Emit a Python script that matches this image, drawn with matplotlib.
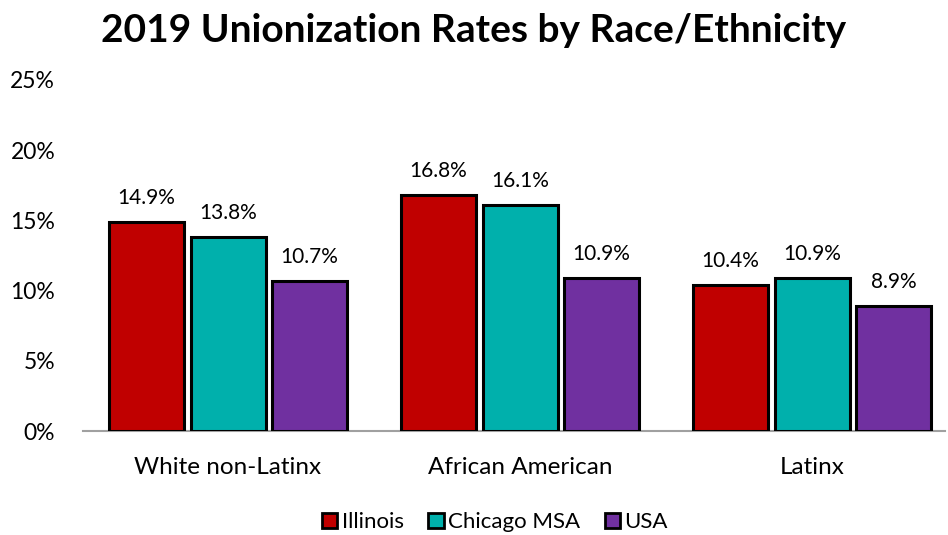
import numpy as np
import matplotlib
matplotlib.use('Agg')
import matplotlib.pyplot as plt
from matplotlib.patches import Patch

plt.rcParams['font.family'] = ['Lato', 'DejaVu Sans']

# data
categories = ['White non-Latinx', 'African American', 'Latinx']
series = ['Illinois', 'Chicago MSA', 'USA']
illinois = [14.9, 16.8, 10.4]
chicago = [13.8, 16.1, 10.9]
usa = [10.7, 10.9, 8.9]
colors = ['#C00000', '#00B0AC', '#7030A0']

fig = plt.figure(figsize=(9.48, 5.35), dpi=100)
ax = fig.add_axes([83 / 948, 104 / 535, 862 / 948, 351 / 535])

x = np.arange(len(categories))
offs = [-0.279, 0, 0.279]
w = 0.257
for vals, off, c in zip([illinois, chicago, usa], offs, colors):
    bars = ax.bar(x + off, vals, w, color=c, edgecolor='black', linewidth=2.2, zorder=3)
    for b, v in zip(bars, vals):
        ax.text(b.get_x() + b.get_width() / 2, v + 1.0, f'{v:.1f}%', ha='center', va='bottom',
                fontsize=15)

ax.set_xlim(-0.4966, 2.455)
ax.set_ylim(0, 25)
ax.set_yticks(np.arange(0, 26, 5))
ax.set_yticklabels([f'{t}%' for t in range(0, 26, 5)], fontsize=16.5)
ax.set_xticks(x)
ax.set_xticklabels(categories, fontsize=17.5)
ax.tick_params(axis='both', length=0)
ax.tick_params(axis='x', pad=19)
ax.tick_params(axis='y', pad=20)
for s in ['top', 'right', 'left']:
    ax.spines[s].set_visible(False)
ax.spines['bottom'].set_color('#A0A0A0')
ax.spines['bottom'].set_linewidth(1.5)

fig.suptitle('2019 Unionization Rates by Race/Ethnicity', fontsize=28, fontweight='bold', y=0.975)

handles = [Patch(facecolor=c, edgecolor='black', linewidth=2) for c in colors]
fig.legend(handles, series, loc='lower center', bbox_to_anchor=(0.522, -0.032), ncol=3, frameon=False,
           fontsize=16, handlelength=0.7, handleheight=0.7, handletextpad=0.2, columnspacing=1.1)

fig.savefig('out.png', dpi=100)
